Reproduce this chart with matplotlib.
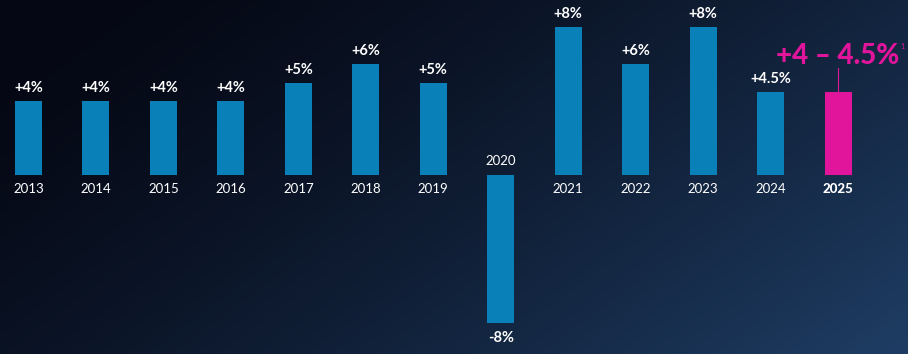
import matplotlib
matplotlib.use("Agg")
import matplotlib.pyplot as plt
import numpy as np

years = ["2013","2014","2015","2016","2017","2018","2019","2020","2021","2022","2023","2024","2025"]
values = [4, 4, 4, 4, 5, 6, 5, -8, 8, 6, 8, 4.5, 4.5]
labels = ["+4%","+4%","+4%","+4%","+5%","+6%","+5%","-8%","+8%","+6%","+8%","+4.5%","+4 – 4.5%"]

W, H = 908, 354
fig = plt.figure(figsize=(W/100, H/100), dpi=100)
ax = fig.add_axes([0, 0, 1, 1])

px_per_x = 67.46
x0 = 28.5
base_y = 175
px_per_y = 18.5
xl = (-x0/px_per_x, (W - x0)/px_per_x)
yl = (-(H - base_y)/px_per_y, base_y/px_per_y)

# background gradient
gx, gy = np.meshgrid(np.linspace(0, 1, 300), np.linspace(0, 1, 120))
dark = np.array([0x05, 0x08, 0x14]) / 255
light = np.array([0x1e, 0x3c, 0x62]) / 255
t = np.clip(0.72 * gx + 0.38 * gy - 0.08, 0, 1) ** 1.35
img = dark[None, None, :] * (1 - t[..., None]) + light[None, None, :] * t[..., None]
ax.imshow(img, extent=[xl[0], xl[1], yl[0], yl[1]], origin="upper", aspect="auto",
          zorder=0, interpolation="bilinear")

blue = "#0a80b8"
pink = "#e0159b"
xs = np.arange(len(years))
colors = [blue] * (len(years) - 1) + [pink]
ax.bar(xs, values, width=27/px_per_x, color=colors, zorder=2)

fam = ["Lato", "DejaVu Sans"]
for i, (x, v, lab, yr) in enumerate(zip(xs, values, labels, years)):
    if i == len(years) - 1:
        ax.text(x, v + 28/px_per_y, lab, ha="center", va="baseline", color=pink,
                fontsize=20, fontweight="black", family=fam, zorder=3)
        ax.text(x + 0.93, v + 43/px_per_y, "1", ha="left", va="baseline", color=pink,
                fontsize=5, family=fam, zorder=3)
        ax.plot([x, x], [v, v + 24/px_per_y], color=pink, lw=0.8, zorder=3)
        ax.text(x, -14/px_per_y, yr, ha="center", va="center", color="white",
                fontsize=9.5, fontweight="black", family=fam, zorder=3)
    elif v < 0:
        ax.text(x, v - 15/px_per_y, lab, ha="center", va="center", color="white",
                fontsize=10.5, fontweight="bold", family=fam, zorder=3)
        ax.text(x, 14/px_per_y, yr, ha="center", va="center", color="white",
                fontsize=9.5, family=fam, zorder=3)
    else:
        ax.text(x, v + 13/px_per_y, lab, ha="center", va="center", color="white",
                fontsize=10.5, fontweight="bold", family=fam, zorder=3)
        ax.text(x, -14/px_per_y, yr, ha="center", va="center", color="white",
                fontsize=9.5, family=fam, zorder=3)

ax.set_xlim(*xl)
ax.set_ylim(*yl)
ax.axis("off")
fig.savefig("out.png", dpi=100)
